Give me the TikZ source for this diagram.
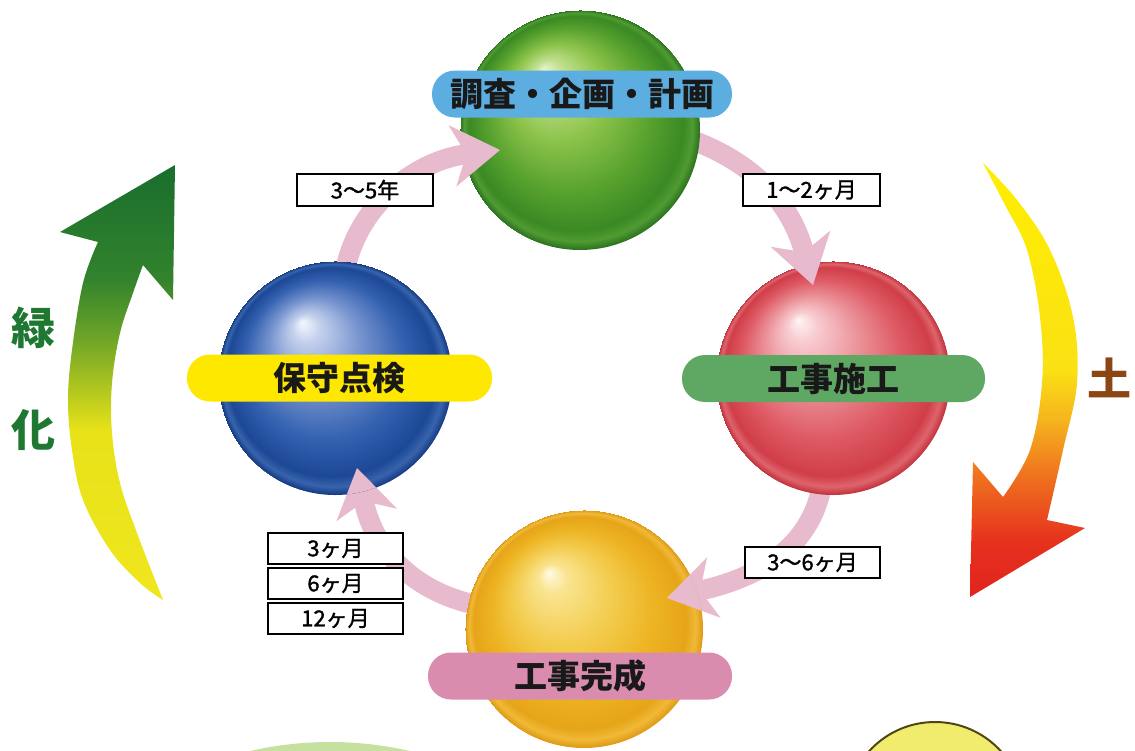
\documentclass[tikz,border=0pt]{standalone}
\usepackage{fontspec}
\setmainfont{Noto Sans CJK JP}
\newfontfamily\boxfont[FakeBold=1.4]{Noto Sans CJK JP}
\usetikzlibrary{arrows.meta,calc}

% sphere palettes: highlight, light, mid, dark, rim reflection, edge
\definecolor{gH0}{RGB}{230,242,205}\definecolor{gH1}{RGB}{195,225,145}
\definecolor{gL}{RGB}{140,195,75}\definecolor{gM}{RGB}{88,162,46}
\definecolor{gD}{RGB}{58,137,36}\definecolor{gR}{RGB}{80,155,50}\definecolor{gE}{RGB}{42,112,30}
\definecolor{rH0}{RGB}{255,245,245}\definecolor{rH1}{RGB}{248,205,210}
\definecolor{rL}{RGB}{235,145,152}\definecolor{rM}{RGB}{222,90,100}
\definecolor{rD}{RGB}{208,62,72}\definecolor{rR}{RGB}{222,100,108}\definecolor{rE}{RGB}{192,48,58}
\definecolor{bH0}{RGB}{245,248,255}\definecolor{bH1}{RGB}{195,208,236}
\definecolor{bL}{RGB}{115,145,205}\definecolor{bM}{RGB}{52,97,176}
\definecolor{bD}{RGB}{28,72,150}\definecolor{bR}{RGB}{55,100,172}\definecolor{bE}{RGB}{20,56,130}
\definecolor{yH0}{RGB}{255,250,230}\definecolor{yH1}{RGB}{250,228,145}
\definecolor{yL}{RGB}{243,205,80}\definecolor{yM}{RGB}{237,180,35}
\definecolor{yD}{RGB}{230,165,25}\definecolor{yR}{RGB}{240,185,55}\definecolor{yE}{RGB}{222,152,20}

\pgfdeclareradialshading{sphG}{\pgfpoint{-7.5bp}{13bp}}{color(0bp)=(gH0); color(3bp)=(gH1); color(10bp)=(gL); color(17bp)=(gM); color(22.3bp)=(gD); color(23.8bp)=(gR); color(25bp)=(gE)}
\pgfdeclareradialshading{sphR}{\pgfpoint{-7.5bp}{12.5bp}}{color(0bp)=(rH0); color(3bp)=(rH1); color(10bp)=(rL); color(17bp)=(rM); color(22.3bp)=(rD); color(23.8bp)=(rR); color(25bp)=(rE)}
\pgfdeclareradialshading{sphB}{\pgfpoint{-7bp}{12bp}}{color(0bp)=(bH0); color(3bp)=(bH1); color(10bp)=(bL); color(17bp)=(bM); color(22.3bp)=(bD); color(23.8bp)=(bR); color(25bp)=(bE)}
\pgfdeclareradialshading{sphY}{\pgfpoint{-7.5bp}{12bp}}{color(0bp)=(yH0); color(3bp)=(yH1); color(10bp)=(yL); color(17bp)=(yM); color(22.3bp)=(yD); color(23.8bp)=(yR); color(25bp)=(yE)}

% big side arrows
\definecolor{ly1}{RGB}{240,230,30}\definecolor{ly2}{RGB}{232,226,25}
\definecolor{lg1}{RGB}{180,200,30}\definecolor{lg2}{RGB}{110,165,40}
\definecolor{lg3}{RGB}{50,130,45}\definecolor{lg4}{RGB}{25,110,45}
\pgfdeclareverticalshading{greenUp}{100bp}{color(0bp)=(ly1); color(25bp)=(ly1); color(44.5bp)=(ly2); color(49bp)=(lg1); color(55bp)=(lg2); color(62bp)=(lg3); color(75bp)=(lg4); color(100bp)=(lg4)}
\definecolor{dr1}{RGB}{225,35,30}\definecolor{dr2}{RGB}{230,50,30}
\definecolor{do1}{RGB}{240,120,30}\definecolor{do2}{RGB}{245,180,30}
\definecolor{dy1}{RGB}{250,225,20}\definecolor{dy2}{RGB}{255,238,0}
\pgfdeclareverticalshading{soilDown}{100bp}{color(0bp)=(dr1); color(25bp)=(dr1); color(31.6bp)=(dr2); color(39.6bp)=(do1); color(45.4bp)=(do2); color(51.2bp)=(dy1); color(75bp)=(dy2); color(100bp)=(dy2)}

\definecolor{pinkA}{RGB}{232,186,206}
\definecolor{barBlue}{RGB}{92,174,224}
\definecolor{barYellow}{RGB}{255,232,0}
\definecolor{barGreen}{RGB}{95,168,100}
\definecolor{barPink}{RGB}{218,140,175}
\definecolor{barText}{RGB}{25,25,25}
\definecolor{greenText}{RGB}{30,120,50}
\definecolor{soilText}{RGB}{140,70,20}
\definecolor{paleGreen}{RGB}{198,224,160}
\definecolor{paleYellow}{RGB}{242,236,110}
\definecolor{oliveEdge}{RGB}{80,70,20}

\begin{document}
\begin{tikzpicture}[x=1pt,y=-1pt,
  sphere/.style={circle, inner sep=0pt, outer sep=0pt, minimum size=#1, shade},
  bar/.style={rectangle, rounded corners=23pt, inner sep=0pt, minimum width=#1,
    minimum height=47pt, text=barText, font=\fontsize{33}{33}\selectfont\bfseries},
  tbox/.style={draw=black, line width=1.5pt, fill=white, inner sep=0pt,
    minimum width=#1, minimum height=32pt, font=\boxfont\fontsize{22}{22}\selectfont},
  parrow/.style={draw=pinkA, line width=20pt,
    -{Stealth[length=48pt,width=62pt,inset=14pt,line width=0pt]}},
  side/.style={font=\fontsize{44}{44}\selectfont\bfseries}]
\useasboundingbox (0,0) rectangle (1135,750);
\clip (0,0) rectangle (1135,750);

% circles peeking in at the bottom edge
\fill[paleGreen] (330,1097) circle[radius=355pt];
\filldraw[fill=paleYellow, draw=oliveEdge, line width=2pt] (935,811) circle[radius=89pt];

% greening arrow (up, left side)
\shade[shading=greenUp]
  plot[smooth, tension=0.6] coordinates {(163,600) (140,583) (110,550) (83,500) (72,450) (68,400) (72,350) (83,283) (98,242)}
  -- (60,232) -- (175,165) -- (173,300) -- (143,265)
  -- plot[smooth, tension=0.6] coordinates {(143,265) (133,293) (120,333) (112,383) (112,433) (120,483) (137,533) (163,600)}
  -- cycle;
% soil arrow (down, right side)
\shade[shading=soilDown]
  plot[smooth, tension=0.6] coordinates {(983,163) (1017,200) (1050,250) (1073,317) (1077,383) (1063,450) (1047,520)}
  -- (1085,528) -- (970,597) -- (973,462) -- (1003,497)
  -- plot[smooth, tension=0.6] coordinates {(1003,497) (1030,450) (1042,383) (1040,317) (1027,250) (1005,205) (983,163)}
  -- cycle;

\node[side, text=greenText] (ryoku) at (33,328) {緑};
\node[side, text=greenText] (ka) at (33,430) {化};
\node[side, text=soilText] (tsuchi) at (1109,378) {土};

% centres of the four stages
\coordinate (cG) at (580,130);
\coordinate (cR) at (833,378);
\coordinate (cY) at (584,629);
\coordinate (cB) at (335,378);

% cycle arrows, full length, under the spheres
\draw[parrow] ($(cG)+(106,8)$) .. controls +(64,22) and +(-23,-85) .. ($(cR)+(-20,-93)$);
\draw[parrow] ($(cR)+(-11,107)$) .. controls +(-10,55) and +(103,-23) .. ($(cY)+(83,-31)$);
\draw[parrow] ($(cY)+(-102,-23)$) .. controls +(-62,-11) and +(18,87) .. ($(cB)+(22,90)$);
\draw[parrow] ($(cB)+(10,-108)$) .. controls +(15,-70) and +(-80,10) .. ($(cG)+(-80,20)$);

% the four stage spheres
\node[sphere=240pt, shading=sphG] (green) at (cG) {};
\node[sphere=234pt, shading=sphR] (red) at (cR) {};
\node[sphere=238pt, shading=sphY] (gold) at (cY) {};
\node[sphere=234pt, shading=sphB] (blue) at (cB) {};

% arrow heads laid over the sphere they point into
\begin{scope}
  \clip (red.center) circle[radius=117pt];
  \draw[parrow] ($(green.center)+(106,8)$) .. controls +(64,22) and +(-23,-85) .. ($(red.center)+(-20,-93)$);
\end{scope}
\begin{scope}
  \clip (gold.center) circle[radius=119pt];
  \draw[parrow] ($(red.center)+(-11,107)$) .. controls +(-10,55) and +(103,-23) .. ($(gold.center)+(83,-31)$);
\end{scope}
\begin{scope}
  \clip (blue.center) circle[radius=117pt];
  \draw[parrow] ($(gold.center)+(-102,-23)$) .. controls +(-62,-11) and +(18,87) .. ($(blue.center)+(22,90)$);
\end{scope}
\begin{scope}
  \clip (green.center) circle[radius=120pt];
  \draw[parrow] ($(blue.center)+(10,-108)$) .. controls +(15,-70) and +(-80,10) .. ($(green.center)+(-80,20)$);
\end{scope}

% stage labels
\node[bar=300pt, fill=barBlue] (plan) at (582,94) {調査・企画・計画};
\node[bar=303pt, fill=barGreen] (build) at (833.5,378.5) {工事施工};
\node[bar=304pt, fill=barPink] (done) at (580,676) {工事完成};
\node[bar=305pt, fill=barYellow] (maint) at (339.5,378) {保守点検};

% durations
\node[tbox=136pt] (d1) at (365,190) {3〜5年};
\node[tbox=137pt] (d2) at (811.5,190) {1〜2ヶ月};
\node[tbox=135pt, minimum height=31pt] (d3) at (812.5,562.5) {3〜6ヶ月};
\node[tbox=135pt, minimum height=31pt] (d4) at (335.5,548.5) {3ヶ月};
\node[tbox=135pt, minimum height=31pt] (d5) at (335.5,583.5) {6ヶ月};
\node[tbox=135pt, minimum height=31pt] (d6) at (335.5,618.5) {12ヶ月};
\end{tikzpicture}
\end{document}
